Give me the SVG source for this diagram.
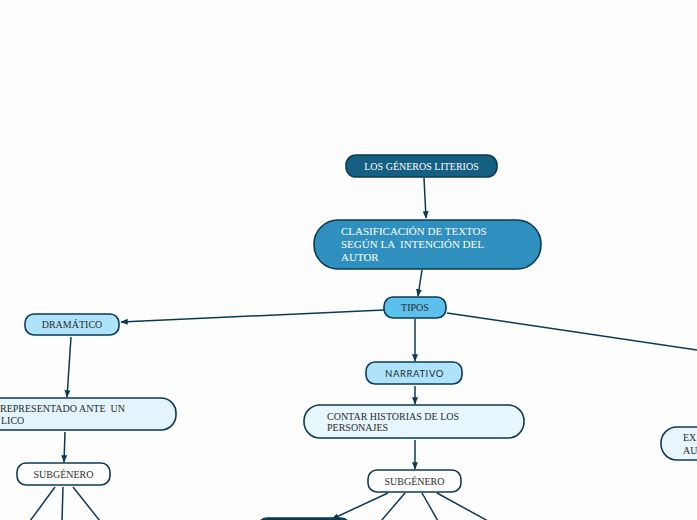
<svg xmlns="http://www.w3.org/2000/svg" width="697" height="520" viewBox="0 0 697 520">
<defs>
<style>
.n{stroke:#0d3a53;stroke-width:1.6}
.t{font-family:"Liberation Serif",serif;font-size:10px;fill:#2b2b2b;white-space:pre}
.w{fill:#ffffff}
.c{stroke:#0d3a53;stroke-width:1.5;fill:none}
</style>
<marker id="a" viewBox="0 0 10 10" refX="9" refY="5" markerWidth="5" markerHeight="5" orient="auto"><path d="M0,1 L10,5 L0,9 z" fill="#0d3a53"/></marker>
</defs>
<rect width="697" height="520" fill="#fdfdfd"/>
<g id="connectors">
<line class="c" x1="424" y1="178" x2="426" y2="218" marker-end="url(#a)"/>
<line class="c" x1="422" y1="270" x2="418" y2="296" marker-end="url(#a)"/>
<line class="c" x1="384" y1="310" x2="121" y2="322" marker-end="url(#a)"/>
<line class="c" x1="415" y1="319" x2="415" y2="361" marker-end="url(#a)"/>
<line class="c" x1="447" y1="313" x2="697" y2="350"/>
<line class="c" x1="415" y1="386" x2="415" y2="404" marker-end="url(#a)"/>
<line class="c" x1="415" y1="440" x2="415" y2="469" marker-end="url(#a)"/>
<line class="c" x1="388" y1="493" x2="332" y2="519" marker-end="url(#a)"/>
<line class="c" x1="405" y1="493" x2="381" y2="521"/>
<line class="c" x1="422" y1="493" x2="438" y2="521"/>
<line class="c" x1="437" y1="493" x2="488" y2="521"/>
<line class="c" x1="71" y1="337" x2="67" y2="397" marker-end="url(#a)"/>
<line class="c" x1="65" y1="432" x2="64" y2="462" marker-end="url(#a)"/>
<line class="c" x1="55" y1="487" x2="30" y2="521"/>
<line class="c" x1="63" y1="487" x2="62" y2="521"/>
<line class="c" x1="73" y1="487" x2="100" y2="521"/>
</g>
<g id="n-generos">
<rect class="n" x="346" y="155" width="151" height="22" rx="10" fill="#155f82"/>
<text class="t w" x="421.5" y="169.5" text-anchor="middle">LOS GÉNEROS LITERIOS</text>
</g>
<g id="n-clasificacion">
<rect class="n" x="314" y="220" width="227" height="49" rx="24" fill="#2f8fbf"/>
<text class="t w" x="341" y="235" style="font-size:11px">CLASIFICACIÓN DE TEXTOS</text>
<text class="t w" x="341" y="248" style="font-size:11px">SEGÚN LA  INTENCIÓN DEL</text>
<text class="t w" x="341" y="261" style="font-size:11px">AUTOR</text>
</g>
<g id="n-tipos">
<rect class="n" x="384" y="297" width="62" height="21" rx="9" fill="#5bc0eb"/>
<text class="t" x="415" y="311" text-anchor="middle">TIPOS</text>
</g>
<g id="n-dramatico">
<rect class="n" x="25" y="314" width="94" height="21" rx="9" fill="#aee3fb"/>
<text class="t" x="72" y="328" text-anchor="middle">DRAMÁTICO</text>
</g>
<g id="n-narrativo">
<rect class="n" x="366" y="362" width="96" height="22" rx="9" fill="#aee3fb"/>
<text x="414.5" y="377" text-anchor="middle" style="font-family:Lato,sans-serif;font-size:9.5px;letter-spacing:0.6px;fill:#1e2a33">NARRATIVO</text>
</g>
<g id="n-contar">
<rect class="n" x="304" y="405" width="220" height="33" rx="16" fill="#e8f6fd"/>
<text class="t" x="327" y="420">CONTAR HISTORIAS DE LOS</text>
<text class="t" x="327" y="431">PERSONAJES</text>
</g>
<g id="n-subgenero-n">
<rect class="n" x="368" y="470" width="93" height="22" rx="9" fill="#ffffff"/>
<text class="t" x="414.5" y="485" text-anchor="middle">SUBGÉNERO</text>
</g>
<g id="n-bottom">
<rect class="n" x="258" y="518" width="92" height="20" rx="9" fill="#0d3a53"/>
</g>
<g id="n-representado">
<rect class="n" x="-60" y="398" width="236" height="32" rx="15" fill="#e3f4fd"/>
<text class="t" x="0" y="412">REPRESENTADO ANTE  UN</text>
<text class="t" x="1" y="424">LICO</text>
</g>
<g id="n-subgenero-d">
<rect class="n" x="17" y="463" width="93" height="22" rx="9" fill="#ffffff"/>
<text class="t" x="63.5" y="478" text-anchor="middle">SUBGÉNERO</text>
</g>
<g id="n-right">
<rect class="n" x="661" y="427" width="80" height="33" rx="16" fill="#e8f6fd"/>
<text class="t" x="683" y="441">EX</text>
<text class="t" x="683" y="454">AU</text>
</g>
</svg>
